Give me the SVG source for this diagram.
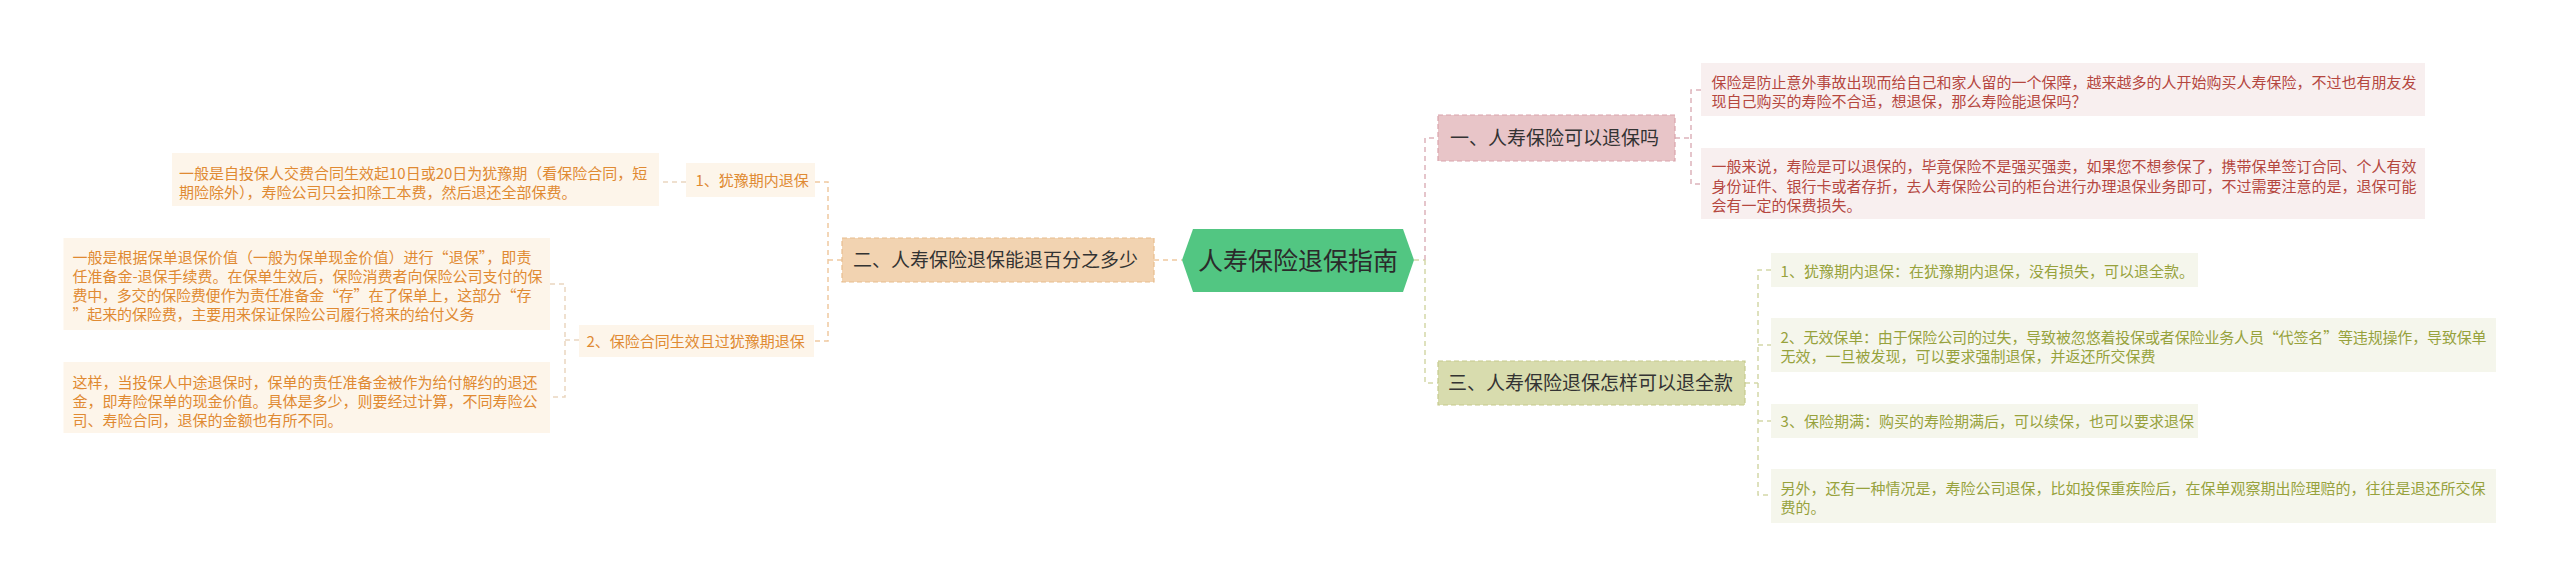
<svg xmlns="http://www.w3.org/2000/svg" width="2560" height="587" viewBox="0 0 2560 587">
<style>
text{font-family:"Noto Sans CJK SC","Noto Sans",sans-serif}
.root{font-size:25px;fill:#2b2b2b}
.br{font-size:19px;fill:#333333}
.lf{font-size:15px}
.or{fill:#e08a32}
.rd{fill:#b5473f}
.gr{fill:#97a23c}
.c{fill:none;stroke-width:1.5;stroke-dasharray:5 4}
.cp{stroke:#f0c9a0}
.cpl{stroke:#ead6c0}
.ck{stroke:#ddb3bb}
.cg{stroke:#d3d8a8}
.bl{stroke-width:1.2;stroke-dasharray:5 3}
</style>
<rect width="2560" height="587" fill="#ffffff"/>
<g id="connectors">
<path class="c cp" stroke-width="2" d="M1154 260H1182"/>
<path class="c cg" stroke-width="2" d="M1414 260H1425"/>
<path class="c ck" stroke-width="2" d="M1425 260V138H1438"/>
<path class="c cg" stroke-width="2" d="M1425 260V383H1438"/>
<path class="c ck" d="M1675 138H1691M1701 90H1691V184H1701"/>
<path class="c cg" d="M1745 383H1758M1771 270H1758V495H1771M1758 345H1771M1758 421H1771"/>
<path class="c cp" d="M842 260H828M815 182H828V341H814"/>
<path class="c cpl" d="M686 182H659"/>
<path class="c cpl" d="M579 340H565M550 284H565V397H550"/>
</g>
<g id="root">
<polygon points="1182,260 1193,229 1403,229 1414,260 1403,292 1193,292" fill="#52c682"/>
<text class="root" x="1298" y="269.5" text-anchor="middle">人寿保险退保指南</text>
</g>
<g id="b1">
<rect x="1438" y="115" width="237" height="46" fill="#e8c5c8" stroke="#d9a3ab" class="bl"/>
<text class="br" x="1450" y="145">一、人寿保险可以退保吗</text>
</g>
<g id="b2">
<rect x="842" y="238" width="312" height="44" fill="#f2d3b1" stroke="#e8bd8e" class="bl"/>
<text class="br" x="853" y="267">二、人寿保险退保能退百分之多少</text>
</g>
<g id="b3">
<rect x="1438" y="361" width="307" height="44" fill="#d8dcae" stroke="#c5ca8c" class="bl"/>
<text class="br" x="1448" y="390">三、人寿保险退保怎样可以退全款</text>
</g>
<g id="b2-1">
<rect x="686" y="163" width="129" height="34" fill="#fdf5ea"/>
<text class="lf or" x="695.5" y="186">1、犹豫期内退保</text>
</g>
<g id="b2-2">
<rect x="579" y="325" width="235" height="32" fill="#fdf5ea"/>
<text class="lf or" x="586.5" y="346.5">2、保险合同生效且过犹豫期退保</text>
</g>
<g id="b2-1-1">
<rect x="172" y="153" width="487" height="53" fill="#fdf5ea"/>
<text class="lf or" x="179" y="178.5">一般是自投保人交费合同生效起10日或20日为犹豫期（看保险合同，短</text>
<text class="lf or" x="179" y="197.5">期险除外），寿险公司只会扣除工本费，然后退还全部保费。</text>
</g>
<g id="b2-2-1">
<rect x="63.5" y="238" width="486.5" height="92" fill="#fdf5ea"/>
<text class="lf or" x="72.4" y="263" textLength="459" lengthAdjust="spacing">一般是根据保单退保价值（一般为保单现金价值）进行“退保”，即责</text>
<text class="lf or" x="72.4" y="282">任准备金-退保手续费。在保单生效后，保险消费者向保险公司支付的保</text>
<text class="lf or" x="72.4" y="301" textLength="459" lengthAdjust="spacing">费中，多交的保险费便作为责任准备金“存”在了保单上，这部分“存</text>
<text class="lf or" x="72.4" y="320" textLength="402" lengthAdjust="spacing">”起来的保险费，主要用来保证保险公司履行将来的给付义务</text>
</g>
<g id="b2-2-2">
<rect x="63.5" y="362" width="486.5" height="71" fill="#fdf5ea"/>
<text class="lf or" x="72.4" y="387.5">这样，当投保人中途退保时，保单的责任准备金被作为给付解约的退还</text>
<text class="lf or" x="72.4" y="406.5">金，即寿险保单的现金价值。具体是多少，则要经过计算，不同寿险公</text>
<text class="lf or" x="72.4" y="425.5">司、寿险合同，退保的金额也有所不同。</text>
</g>
<g id="b1-1">
<rect x="1701" y="63" width="724" height="53" fill="#f8efef"/>
<text class="lf rd" x="1711.5" y="87.5">保险是防止意外事故出现而给自己和家人留的一个保障，越来越多的人开始购买人寿保险，不过也有朋友发</text>
<text class="lf rd" x="1711.5" y="107">现自己购买的寿险不合适，想退保，那么寿险能退保吗？</text>
</g>
<g id="b1-2">
<rect x="1701" y="148" width="724" height="71" fill="#f8efef"/>
<text class="lf rd" x="1711.5" y="172">一般来说，寿险是可以退保的，毕竟保险不是强买强卖，如果您不想参保了，携带保单签订合同、个人有效</text>
<text class="lf rd" x="1711.5" y="191.5">身份证件、银行卡或者存折，去人寿保险公司的柜台进行办理退保业务即可，不过需要注意的是，退保可能</text>
<text class="lf rd" x="1711.5" y="210.5">会有一定的保费损失。</text>
</g>
<g id="b3-1">
<rect x="1771" y="253" width="427" height="34" fill="#f5f6ec"/>
<text class="lf gr" x="1780.6" y="276.5">1、犹豫期内退保：在犹豫期内退保，没有损失，可以退全款。</text>
</g>
<g id="b3-2">
<rect x="1771" y="318" width="725" height="54" fill="#f5f6ec"/>
<text class="lf gr" x="1780.6" y="342.5" textLength="706" lengthAdjust="spacing">2、无效保单：由于保险公司的过失，导致被忽悠着投保或者保险业务人员“代签名”等违规操作，导致保单</text>
<text class="lf gr" x="1780.6" y="361.7">无效，一旦被发现，可以要求强制退保，并返还所交保费</text>
</g>
<g id="b3-3">
<rect x="1771" y="404" width="427" height="34" fill="#f5f6ec"/>
<text class="lf gr" x="1780.6" y="427">3、保险期满：购买的寿险期满后，可以续保，也可以要求退保</text>
</g>
<g id="b3-4">
<rect x="1771" y="469" width="725" height="54" fill="#f5f6ec"/>
<text class="lf gr" x="1780.6" y="494">另外，还有一种情况是，寿险公司退保，比如投保重疾险后，在保单观察期出险理赔的，往往是退还所交保</text>
<text class="lf gr" x="1780.6" y="513">费的。</text>
</g>
</svg>
